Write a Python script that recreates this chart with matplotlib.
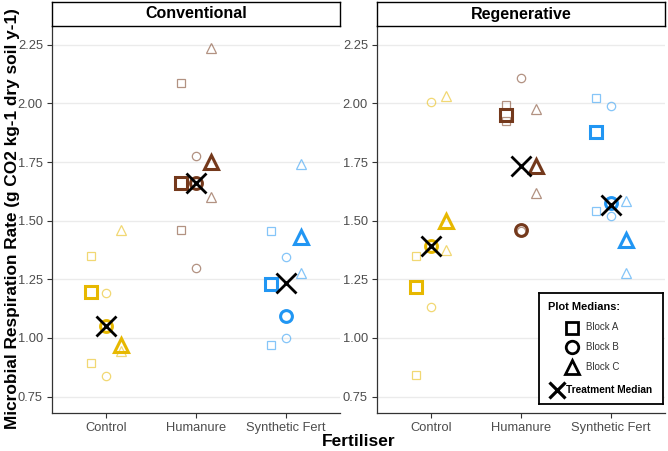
import matplotlib
matplotlib.use("Agg")
import matplotlib.pyplot as plt
import numpy as np

plt.rcParams["font.family"] = ["Liberation Sans", "DejaVu Sans"]

fertilisers = ["Control", "Humanure", "Synthetic Fert"]
panels = ["Conventional", "Regenerative"]
blocks = ["Block A", "Block B", "Block C"]
colours = ["#E7B800", "#74391C", "#2196F3"]

# individual plot medians (two per block, per fertiliser)
conv_plot_a = [[1.35, 0.895], [2.085, 1.46], [1.458, 0.97]]
conv_plot_b = [[1.19, 0.838], [1.776, 1.297], [1.347, 1.0]]
conv_plot_c = [[1.46, 0.946], [2.236, 1.603], [1.741, 1.276]]
conv_block_a = [1.197, 1.66, 1.23]
conv_block_b = [1.05, 1.66, 1.094]
conv_block_c = [0.97, 1.752, 1.43]
conv_treatment = [1.05, 1.66, 1.233]

regen_plot_a = [[1.35, 0.844], [1.994, 1.927], [2.024, 1.541]]
regen_plot_b = [[2.005, 1.134], [2.11, 1.455], [1.99, 1.518]]
regen_plot_c = [[2.03, 1.377], [1.978, 1.617], [1.585, 1.279]]
regen_block_a = [1.219, 1.951, 1.877]
regen_block_b = [1.393, 1.46, 1.575]
regen_block_c = [1.499, 1.735, 1.418]
regen_treatment = [1.39, 1.731, 1.567]

markers = ["s", "o", "^"]
offsets = [-0.167, 0.0, 0.167]
big_size = [8.5, 8.5, 9.5]
small_size = [6.2, 6.0, 7.0]


def draw_panel(ax, plots, block_meds, treat):
    x = np.arange(1, len(fertilisers) + 1)
    for b in range(3):
        for i in range(3):
            xs = [x[i] + offsets[b]] * len(plots[b][i])
            ax.plot(xs, plots[b][i], ls="none", marker=markers[b],
                    mfc="none", mec=colours[i], mew=0.9, ms=small_size[b],
                    alpha=0.55, zorder=3)
    for b in range(3):
        for i in range(3):
            ax.plot(x[i] + offsets[b], block_meds[b][i], ls="none",
                    marker=markers[b], mfc="none", mec=colours[i], mew=2.2,
                    ms=big_size[b], zorder=4)
    ax.plot(x, treat, ls="none", marker="x", color="black", ms=14, mew=2.0,
            zorder=5)

    ax.set_xlim(0.4, 3.6)
    ax.set_ylim(0.68, 2.33)
    ax.set_yticks([0.75, 1.0, 1.25, 1.5, 1.75, 2.0, 2.25])
    ax.set_yticklabels(["0.75", "1.00", "1.25", "1.50", "1.75", "2.00", "2.25"])
    ax.set_xticks(x)
    ax.set_xticklabels(fertilisers)
    ax.grid(axis="y", color="#EBEBEB", lw=1.0)
    ax.set_axisbelow(True)
    for s in ["top", "right"]:
        ax.spines[s].set_visible(False)
    for s in ["left", "bottom"]:
        ax.spines[s].set_color("#333333")
        ax.spines[s].set_linewidth(0.9)
    ax.tick_params(colors="#333333", labelcolor="#4D4D4D", labelsize=9.3,
                   length=3.5, width=0.8, pad=3)


fig = plt.figure(figsize=(6.68, 4.51), dpi=100)
W, H = 668, 451
lefts = [52, 377]
pw = 288
top, bottom = 26, 413

data = [
    ([conv_plot_a, conv_plot_b, conv_plot_c],
     [conv_block_a, conv_block_b, conv_block_c], conv_treatment),
    ([regen_plot_a, regen_plot_b, regen_plot_c],
     [regen_block_a, regen_block_b, regen_block_c], regen_treatment),
]

axes = []
for k, lx in enumerate(lefts):
    ax = fig.add_axes([lx / W, 1 - bottom / H, pw / W, (bottom - top) / H])
    draw_panel(ax, *data[k])
    axes.append(ax)
    # facet strip
    sx = fig.add_axes([lx / W, 1 - top / H, pw / W, 24 / H])
    sx.set_xticks([])
    sx.set_yticks([])
    for s in sx.spines.values():
        s.set_color("black")
        s.set_linewidth(1.0)
    sx.text(0.5, 0.5, panels[k], ha="center", va="center",
            fontsize=11.5, fontweight="bold", transform=sx.transAxes)

fig.text(358.5 / W, 1 - 442 / H, "Fertiliser", ha="center", va="center",
         fontsize=12.5, fontweight="bold")
fig.text(12.5 / W, 1 - 219 / H,
         "Microbial Respiration Rate (g CO2 kg-1 dry soil y-1)",
         ha="center", va="center", rotation=90, fontsize=12.4,
         fontweight="bold")

# legend box, drawn by hand (pixel units inside the box)
lx0, lx1, ly0, ly1 = 539, 663, 293, 404
lg = fig.add_axes([lx0 / W, 1 - ly1 / H, (lx1 - lx0) / W, (ly1 - ly0) / H])
lg.set_xlim(lx0, lx1)
lg.set_ylim(ly1, ly0)
lg.set_xticks([])
lg.set_yticks([])
lg.set_zorder(10)
for s in lg.spines.values():
    s.set_color("black")
    s.set_linewidth(1.3)
lg.text(548, 306.5, "Plot Medians:", ha="left", va="center", fontsize=7.9,
        fontweight="bold")
for m, lab, yy in zip(markers, blocks, [327.5, 347, 366.5]):
    lg.plot(572, yy, ls="none", marker=m, mfc="none", mec="black", mew=2.0,
            ms=9 if m != "^" else 10)
    lg.text(586.5, yy, lab, ha="left", va="center", fontsize=7.0,
            color="#333333")
lg.plot(557, 390, ls="none", marker="x", color="black", mew=2.3, ms=11)
lg.text(566.5, 390, "Treatment Median", ha="left", va="center", fontsize=7.3,
        fontweight="bold")

fig.savefig("out.png", dpi=100)
plt.close(fig)
